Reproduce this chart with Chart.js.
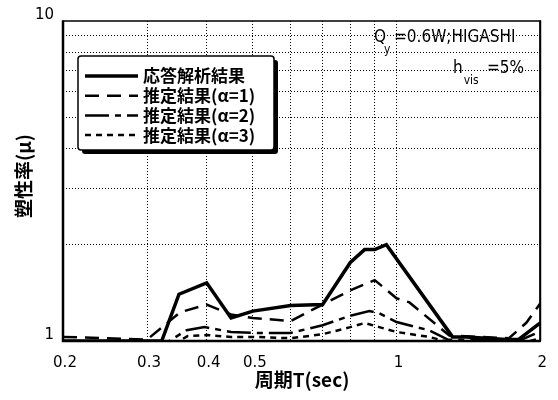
<!DOCTYPE html>
<html>
<head>
<meta charset="utf-8">
<script src="https://cdn.jsdelivr.net/npm/chart.js@4"></script>
<style>
  html, body { margin: 0; padding: 0; background: #fff; }
</style>
</head>
<body>
<canvas id="c" width="558" height="400"></canvas>
<script>
// Axis ticks (period T in sec, ductility ratio μ)
const periodTicks = [0.2, 0.3, 0.4, 0.5, 0.6, 0.7, 0.8, 0.9, 1, 2];
const periodLabels = [0.2, 0.3, 0.4, 0.5, 1, 2];
const ductilityTicks = [1, 2, 3, 4, 5, 6, 7, 8, 9, 10];
const ductilityLabels = [1, 10];

const seriesNames = ['応答解析結果', '推定結果(α=1)', '推定結果(α=2)', '推定結果(α=3)'];

// Response analysis result
const responseT  = [0.2, 0.3, 0.322, 0.35, 0.4, 0.45, 0.5, 0.6, 0.7, 0.8, 0.857, 0.9, 0.952, 1.31, 1.4, 1.7, 1.8, 2.0];
const responseMu = [1.0, 1.0, 1.0, 1.40, 1.52, 1.18, 1.24, 1.29, 1.30, 1.76, 1.93, 1.93, 2.0, 1.03, 1.03, 1.01, 1.01, 1.14];

// Estimated, α = 1
const alpha1T  = [0.2, 0.3, 0.352, 0.4, 0.45, 0.5, 0.6, 0.7, 0.8, 0.9, 1.0, 1.064, 1.29, 1.72, 1.87, 2.0];
const alpha1Mu = [1.03, 1.01, 1.23, 1.30, 1.21, 1.18, 1.155, 1.30, 1.44, 1.55, 1.36, 1.32, 1.04, 1.02, 1.14, 1.31];

// Estimated, α = 2
const alpha2T  = [0.2, 0.33, 0.363, 0.396, 0.45, 0.5, 0.6, 0.7, 0.8, 0.877, 0.92, 1.0, 1.17, 1.28, 1.8, 2.0];
const alpha2Mu = [0.98, 0.99, 1.08, 1.105, 1.067, 1.06, 1.06, 1.12, 1.20, 1.24, 1.22, 1.146, 1.08, 1.01, 1.0, 1.07];

// Estimated, α = 3
const alpha3T  = [0.2, 0.346, 0.365, 0.4, 0.45, 0.5, 0.6, 0.7, 0.8, 0.857, 0.92, 1.0, 1.17, 1.26, 1.85, 2.0];
const alpha3Mu = [0.98, 0.99, 1.036, 1.044, 1.03, 1.03, 1.02, 1.05, 1.105, 1.138, 1.105, 1.067, 1.03, 1.0, 0.99, 1.02];

const pairs = (xs, ys) => xs.map((x, i) => ({ x: x, y: ys[i] }));
const near = (a, b) => Math.abs(a - b) < 1e-6;

const lineStyles = [
  { width: 3.5, dash: [] },
  { width: 2.5, dash: [14, 8] },
  { width: 2.5, dash: [24, 6, 6, 6] },
  { width: 2.5, dash: [6, 5] }
];

const datasets = [
  pairs(responseT, responseMu),
  pairs(alpha1T, alpha1Mu),
  pairs(alpha2T, alpha2Mu),
  pairs(alpha3T, alpha3Mu)
].map((d, i) => ({
  label: seriesNames[i],
  data: d,
  borderColor: '#000',
  borderWidth: lineStyles[i].width,
  borderDash: lineStyles[i].dash,
  pointRadius: 0,
  tension: 0,
  fill: false
}));

const noteFont = '17px "DejaVu Sans Condensed", "DejaVu Sans"';
const subFont = '12px "DejaVu Sans Condensed", "DejaVu Sans"';

// Frame, legend box, condition note and axis titles
const decorations = {
  id: 'decorations',
  afterDraw(chart) {
    const ctx = chart.ctx;
    const a = chart.chartArea;
    ctx.save();

    // frame
    ctx.strokeStyle = '#000';
    ctx.lineWidth = 1.5;
    ctx.strokeRect(a.left, a.top, a.right - a.left, a.bottom - a.top);
    ctx.lineWidth = 2.5;
    ctx.beginPath();
    ctx.moveTo(a.left, a.top - 0.5);
    ctx.lineTo(a.left, a.bottom);
    ctx.lineTo(a.right + 0.5, a.bottom);
    ctx.stroke();
    ctx.lineWidth = 2;
    ctx.beginPath();
    ctx.moveTo(a.right, a.top - 0.5);
    ctx.lineTo(a.right, a.bottom);
    ctx.stroke();

    // legend box with drop shadow
    const bx = a.left + 15, by = a.top + 35, bw = 196, bh = 94;
    ctx.fillStyle = '#000';
    ctx.beginPath();
    ctx.roundRect(bx + 4, by + 4, bw, bh, 3);
    ctx.fill();
    ctx.fillStyle = '#fff';
    ctx.beginPath();
    ctx.roundRect(bx, by, bw, bh, 3);
    ctx.fill();
    ctx.lineWidth = 1.5;
    ctx.stroke();

    ctx.font = 'bold 17px "Noto Sans CJK JP"';
    ctx.textBaseline = 'middle';
    ctx.textAlign = 'left';
    chart.data.datasets.forEach((ds, i) => {
      const y = by + 20 + i * 19.7;
      ctx.save();
      ctx.strokeStyle = '#000';
      ctx.lineWidth = ds.borderWidth;
      ctx.setLineDash(ds.borderDash);
      ctx.beginPath();
      ctx.moveTo(bx + 7, y);
      ctx.lineTo(bx + 60, y);
      ctx.stroke();
      ctx.restore();
      ctx.fillStyle = '#000';
      ctx.fillText(ds.label, bx + 65, y);
    });

    // condition note
    ctx.fillStyle = '#000';
    ctx.textBaseline = 'alphabetic';
    ctx.textAlign = 'left';
    let x = 374;
    ctx.font = noteFont;
    ctx.fillText('Q', x, 42);
    x += ctx.measureText('Q').width;
    ctx.font = subFont;
    ctx.fillText('y', x - 2, 53);
    ctx.font = noteFont;
    ctx.fillText('=0.6W;HIGASHI', 394, 42);

    x = 453;
    ctx.fillText('h', x, 73);
    x += ctx.measureText('h').width + 1;
    ctx.font = subFont;
    ctx.fillText('vis', x, 84);
    ctx.font = noteFont;
    ctx.fillText('=5%', 487, 73);

    // axis titles
    ctx.font = 'bold 19px "Noto Sans CJK JP"';
    ctx.textAlign = 'center';
    ctx.textBaseline = 'middle';
    ctx.fillText('周期T(sec)', 302, 380);
    ctx.save();
    ctx.translate(24, 176);
    ctx.rotate(-Math.PI / 2);
    ctx.fillText('塑性率(μ)', 0, 0);
    ctx.restore();

    ctx.restore();
  }
};

new Chart(document.getElementById('c'), {
  type: 'line',
  data: { datasets: datasets },
  plugins: [decorations],
  options: {
    responsive: false,
    animation: false,
    devicePixelRatio: 1,
    layout: { padding: { left: 0, top: 21, right: 17, bottom: 0 } },
    plugins: { legend: { display: false }, tooltip: { enabled: false } },
    scales: {
      x: {
        type: 'logarithmic',
        min: 0.2,
        max: 2,
        afterBuildTicks: s => { s.ticks = periodTicks.map(v => ({ value: v })); },
        afterFit: s => { s.height = 59; },
        ticks: {
          autoSkip: false,
          maxRotation: 0,
          padding: 13,
          labelOffset: 2,
          color: '#000',
          font: { family: 'DejaVu Sans', size: 15 },
          callback: v => periodLabels.some(l => near(l, v)) ? String(v) : ''
        },
        grid: {
          drawTicks: false,
          lineWidth: 1,
          color: c => (c.tick && (near(c.tick.value, 0.2) || near(c.tick.value, 2))) ? 'rgba(0,0,0,0)' : '#000'
        },
        border: { display: false, dash: [1, 2] }
      },
      y: {
        type: 'logarithmic',
        min: 1,
        max: 10,
        afterBuildTicks: s => { s.ticks = ductilityTicks.map(v => ({ value: v })); },
        afterFit: s => { s.width = 63; },
        ticks: {
          autoSkip: false,
          padding: 9,
          labelOffset: -6,
          color: '#000',
          font: { family: 'DejaVu Sans', size: 15 },
          callback: v => ductilityLabels.some(l => near(l, v)) ? String(v) : ''
        },
        grid: {
          drawTicks: false,
          lineWidth: 1,
          color: c => (c.tick && (near(c.tick.value, 1) || near(c.tick.value, 10))) ? 'rgba(0,0,0,0)' : '#000'
        },
        border: { display: false, dash: [1, 2] }
      }
    }
  }
});
</script>
</body>
</html>
